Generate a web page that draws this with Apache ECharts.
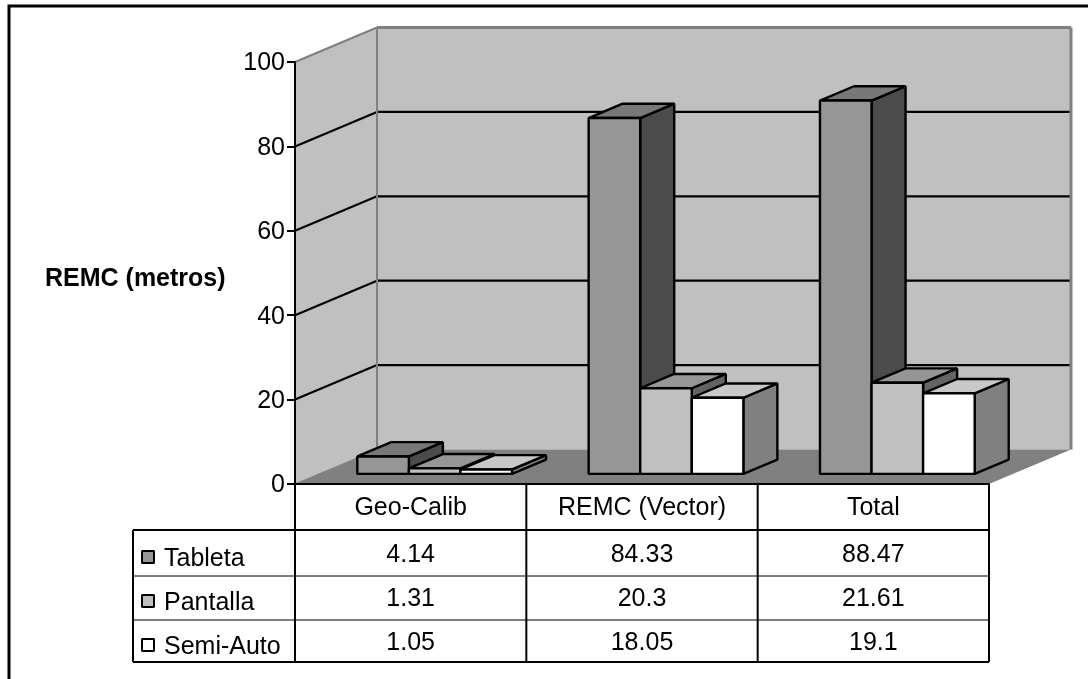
<!DOCTYPE html>
<html><head><meta charset="utf-8">
<style>html,body{margin:0;padding:0;background:#fff}#c{width:1088px;height:679px}</style>
<script src="https://cdn.jsdelivr.net/npm/echarts@6/dist/echarts.min.js"></script>
</head><body><div id="c"></div>
<script>
var categories = ['Geo-Calib', 'REMC (Vector)', 'Total'];
var tableta = [4.14, 84.33, 88.47];
var pantalla = [1.31, 20.3, 21.61];
var semiAuto = [1.05, 18.05, 19.1];
var seriesNames = ['Tableta', 'Pantalla', 'Semi-Auto'];
var yTicks = [0, 20, 40, 60, 80, 100];
var axisTitle = 'REMC (metros)';

var FONT = '"Liberation Sans", Arial, sans-serif';
var FS = 25;
var DX = 82, DY = 34.5;
var FRONT = 24 / 82, BACK = 58 / 82;
var BAR = 51.5 / 231;
var faces = [
  {face: '#969696', top: '#787878', side: '#4b4b4b'},
  {face: '#c0c0c0', top: '#969696', side: '#636363'},
  {face: '#ffffff', top: '#c8c8c8', side: '#808080'}
];
function P(x, y, d) { return [x + d * DX, y - d * DY]; }
function poly(pts, fill, stroke, lw) {
  return {type: 'polygon', shape: {points: pts}, style: {fill: fill, stroke: stroke || null, lineWidth: lw || 0, lineJoin: 'bevel'}};
}
function line(a, b, col, lw) {
  return {type: 'polyline', shape: {points: [a, b]}, style: {fill: null, stroke: col, lineWidth: lw}};
}
function txt(s, x, y, align) {
  return {type: 'text', style: {text: String(s), x: x, y: y, fill: '#000', font: FS + 'px ' + FONT, align: align || 'center', verticalAlign: 'middle'}};
}

function renderBackdrop(params, api) {
  var w = api.size([1, 0])[0];
  var L = api.coord([0, 0])[0] - w / 2, R = api.coord([2, 0])[0] + w / 2;
  var y0 = api.coord([0, 0])[1], y100 = api.coord([0, 100])[1];
  var c = [];
  c.push(poly([[L, y100], P(L, y100, 1), P(L, y0, 1), [L, y0]], '#c0c0c0'));
  c.push(poly([P(L, y100, 1), P(R, y100, 1), P(R, y0, 1), P(L, y0, 1)], '#c0c0c0'));
  c.push(poly([[L, y0], [R, y0], P(R, y0, 1), P(L, y0, 1)], '#808080'));
  yTicks.forEach(function (t) {
    var y = api.coord([0, t])[1];
    if (t > 0 && t < 100) {
      c.push(line([L, y], P(L, y, 1), '#000', 2.2));
      c.push(line(P(L, y, 1), P(R, y, 1), '#000', 2.2));
    }
  });
  c.push(line([L, y100], P(L, y100, 1), '#808080', 2));
  c.push(line([L, y0], P(L, y0, 1), '#808080', 1));
  c.push(line(P(L, y100, 1), P(R, y100, 1), '#808080', 3));
  c.push(line(P(L, y100, 1), P(L, y0, 1), '#808080', 2));
  c.push(line(P(R, y100, 1), P(R, y0, 1), '#808080', 3));
  return {type: 'group', children: c};
}

function barRenderer(idx) {
  return function (params, api) {
    var cat = api.value(0), v = api.value(1);
    var w = api.size([1, 0])[0], bw = w * BAR;
    var cx = api.coord([cat, 0])[0], y0 = api.coord([cat, 0])[1], yv = api.coord([cat, v])[1];
    var x0 = cx + (idx - 1.5) * bw, x1 = x0 + bw;
    var f = faces[idx];
    var fa = P(x0, yv, FRONT), fb = P(x1, yv, FRONT), fc = P(x1, y0, FRONT), fd = P(x0, y0, FRONT);
    var ba = P(x0, yv, BACK), bb = P(x1, yv, BACK), bc = P(x1, y0, BACK);
    return {type: 'group', children: [
      poly([fb, bb, bc, fc], f.side, '#000', 2.4),
      poly([fa, ba, bb, fb], f.top, '#000', 2.4),
      poly([fa, fb, fc, fd], f.face, '#000', 2.4)
    ]};
  };
}

var ROW_TOP = 530, ROW_Y = [576, 620, 662], LEFT = 133, CENTER_Y = [555, 599, 643], LABEL_DY = 4, SW_Y = [557, 601, 645];
var values = [tableta, pantalla, semiAuto];
function renderTable(params, api) {
  var w = api.size([1, 0])[0];
  var L = api.coord([0, 0])[0] - w / 2, R = api.coord([2, 0])[0] + w / 2;
  var y0 = api.coord([0, 0])[1], bottom = ROW_Y[2];
  var c = [];
  c.push(line([LEFT, ROW_TOP], [R, ROW_TOP], '#000', 2));
  c.push(line([LEFT, ROW_Y[0]], [R, ROW_Y[0]], '#000', 1));
  c.push(line([LEFT, ROW_Y[1]], [R, ROW_Y[1]], '#000', 1));
  c.push(line([LEFT, bottom], [R, bottom], '#000', 2));
  c.push(line([LEFT, ROW_TOP], [LEFT, bottom], '#000', 2));
  c.push(line([L, y0], [L, bottom], '#000', 2));
  c.push(line([L + w, y0], [L + w, bottom], '#000', 2));
  c.push(line([L + 2 * w, y0], [L + 2 * w, bottom], '#000', 2));
  c.push(line([R, y0], [R, bottom], '#000', 2));
  seriesNames.forEach(function (name, i) {
    c.push(poly([[142, SW_Y[i] - 6], [154, SW_Y[i] - 6], [154, SW_Y[i] + 6], [142, SW_Y[i] + 6]], faces[i].face, '#000', 2));
    c.push(txt(name, 164, CENTER_Y[i] + LABEL_DY, 'left'));
    categories.forEach(function (cat, j) {
      c.push(txt(values[i][j], api.coord([j, 0])[0], CENTER_Y[i]));
    });
  });
  return {type: 'group', children: c};
}

function pairs(arr) { return arr.map(function (v, i) { return [i, v]; }); }

var chart = echarts.init(document.getElementById('c'), null, {renderer: 'canvas'});
chart.setOption({
  animation: false,
  backgroundColor: '#fff',
  textStyle: {fontFamily: FONT},
  title: {text: axisTitle, left: 45, top: 267, padding: 0, textStyle: {fontFamily: FONT, fontSize: FS, fontWeight: 'bold', color: '#000'}},
  graphic: [{type: 'polyline', silent: true, shape: {points: [[9, 679], [9, 6], [1088, 6]]}, style: {fill: null, stroke: '#000', lineWidth: 3}}],
  grid: {left: 295, top: 62, width: 694, height: 422},
  xAxis: {type: 'category', data: categories, axisTick: {show: false},
    axisLine: {show: true, lineStyle: {color: '#000', width: 2}},
    axisLabel: {color: '#000', fontSize: FS, fontFamily: FONT, margin: 12}, z: 10},
  yAxis: {type: 'value', min: 0, max: 100, interval: 20,
    splitLine: {show: false},
    axisLine: {show: true, lineStyle: {color: '#000', width: 2}},
    axisTick: {show: true, length: 8, lineStyle: {color: '#000', width: 2}},
    axisLabel: {color: '#000', fontSize: FS, fontFamily: FONT, margin: 10, verticalAlign: 'top', padding: [-11, 0, 0, 0]}, z: 10},
  series: [
    {type: 'custom', z: 1, silent: true, renderItem: renderBackdrop, data: [[0, 0]], encode: {x: 0, y: 1}},
    {type: 'custom', z: 2, name: seriesNames[0], renderItem: barRenderer(0), data: pairs(tableta), encode: {x: 0, y: 1}},
    {type: 'custom', z: 3, name: seriesNames[1], renderItem: barRenderer(1), data: pairs(pantalla), encode: {x: 0, y: 1}},
    {type: 'custom', z: 4, name: seriesNames[2], renderItem: barRenderer(2), data: pairs(semiAuto), encode: {x: 0, y: 1}},
    {type: 'custom', z: 5, silent: true, renderItem: renderTable, data: [[0, 0]], encode: {x: 0, y: 1}}
  ]
});
</script></body></html>
